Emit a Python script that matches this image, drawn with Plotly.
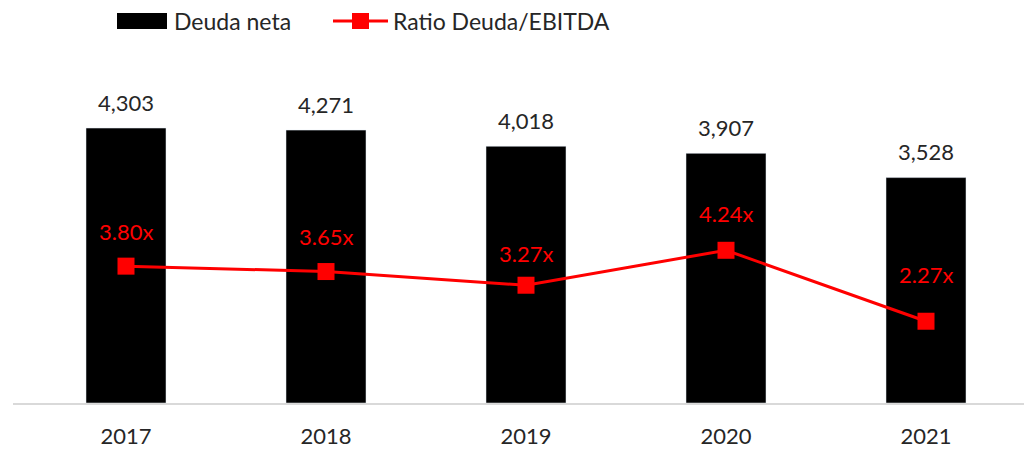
import plotly.graph_objects as go

years = ["2017", "2018", "2019", "2020", "2021"]
deuda_neta = [4303, 4271, 4018, 3907, 3528]
ratio = [3.80, 3.65, 3.27, 4.24, 2.27]
deuda_labels = ["4,303", "4,271", "4,018", "3,907", "3,528"]
ratio_labels = ["3.80x", "3.65x", "3.27x", "4.24x", "2.27x"]

# label offsets (style, in pixels above the point)
ratio_label_shift = [35, 35, 32, 37, 47]

FONT = "Lato"
TXT = "#262626"
RED = "#ff0000"

fig = go.Figure()
fig.add_trace(go.Bar(x=years, y=deuda_neta, name="Deuda neta", marker_color="black",
                     width=0.4, showlegend=False))
fig.add_trace(go.Scatter(x=years, y=ratio, name="Ratio Deuda/EBITDA", yaxis="y2",
                         mode="lines+markers", line=dict(color=RED, width=3),
                         marker=dict(symbol="square", size=17, color=RED),
                         showlegend=False))

annotations = []
for i, (v, t) in enumerate(zip(deuda_neta, deuda_labels)):
    annotations.append(dict(x=i, y=v, xref="x", yref="y", text=t, showarrow=False,
                            yanchor="middle", yshift=26,
                            font=dict(family=FONT, size=22, color=TXT)))
for i, (v, t) in enumerate(zip(ratio, ratio_labels)):
    annotations.append(dict(x=i, y=v, xref="x", yref="y2", text=t, showarrow=False,
                            yanchor="middle", yshift=ratio_label_shift[i],
                            font=dict(family=FONT, size=22, color=RED)))

# page-pixel -> paper helpers (page has 8px body margin; plot area 13..1032 x 45..403)
def px(xp):
    return (xp - 13) / 1019

def py(yp):
    return (403 - yp) / 358

annotations.append(dict(xref="paper", yref="paper", x=px(172), y=py(21),
                        text="Deuda neta", showarrow=False, xanchor="left", yanchor="middle",
                        font=dict(family=FONT, size=23, color=TXT)))
annotations.append(dict(xref="paper", yref="paper", x=px(391), y=py(21),
                        text="Ratio Deuda/EBITDA", showarrow=False, xanchor="left", yanchor="middle",
                        font=dict(family=FONT, size=23, color=TXT)))

shapes = [
    dict(type="rect", xref="paper", yref="paper", x0=px(117), x1=px(167), y0=py(29), y1=py(13),
         fillcolor="black", line=dict(width=0)),
    dict(type="line", xref="paper", yref="paper", x0=px(333), x1=px(388), y0=py(21), y1=py(21),
         line=dict(color=RED, width=3)),
    dict(type="rect", xref="paper", yref="paper", x0=px(352), x1=px(369), y0=py(29), y1=py(13),
         fillcolor=RED, line=dict(width=0)),
]

fig.update_layout(
    width=1024, height=443,
    margin=dict(l=5, r=0, t=37, b=48),
    paper_bgcolor="white", plot_bgcolor="white",
    xaxis=dict(type="category", range=[-0.565, 4.53], showgrid=False, showline=True,
               linecolor="#d9d9d9", linewidth=2, ticks="", ticklabelstandoff=13,
               tickfont=dict(family=FONT, size=22, color=TXT)),
    yaxis=dict(range=[0, 5603], visible=False, showgrid=False, zeroline=False),
    yaxis2=dict(range=[0, 9.94], overlaying="y", visible=False, showgrid=False, zeroline=False),
    annotations=annotations,
    shapes=shapes,
    showlegend=False,
)
fig.write_html("out.html")
